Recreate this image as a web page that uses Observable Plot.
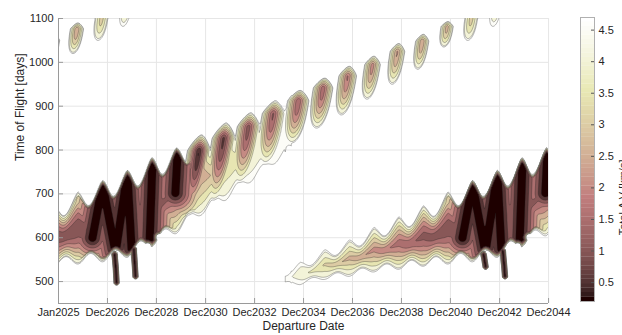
<!DOCTYPE html>
<html><head><meta charset="utf-8">
<script src="https://cdn.jsdelivr.net/npm/d3@7"></script>
<script src="https://cdn.jsdelivr.net/npm/@observablehq/plot@0.6"></script>
<style>
html,body{margin:0;padding:0;background:#fff;}
#wrap{position:relative;width:622px;height:335px;overflow:hidden;}
#wrap svg{position:absolute;left:0;top:0;}
</style></head><body><div id="wrap"></div>
<script>
// ---------------- data ----------------
const tickYears  = [2025.00, 2026.99, 2028.98, 2030.98, 2032.97, 2034.96, 2036.95, 2038.94, 2040.93, 2042.93, 2044.92];
const tickLabels = ["Jan2025","Dec2026","Dec2028","Dec2030","Dec2032","Dec2034","Dec2036","Dec2038","Dec2040","Dec2042","Dec2044"];
const tofTicks = [500, 600, 700, 800, 900, 1000, 1100];
const dvTicks  = [0.5, 1, 1.5, 2, 2.5, 3, 3.5, 4, 4.5];
const dvLevels = [4.7, 4.5, 4, 3.5, 3, 2.5, 2, 1.5, 1, 0.5];   // contour levels (4.7 = cut-off)
const dvRange  = [0.2, 4.7];                                   // colour axis

// launch windows (departure, decimal year)
const windowYears = [2024.79, 2025.79, 2026.80, 2027.80, 2028.80, 2029.80, 2030.81, 2031.81, 2032.81, 2033.81, 2034.82,
                     2035.82, 2036.82, 2037.82, 2038.83, 2039.83, 2040.83, 2041.83, 2042.84, 2043.84, 2044.84, 2045.85];

// family 1 : windows 2024.79 .. 2042.84 (lower-left band rising to the isolated lobes)
const tip1 = [676, 705, 731, 754, 783, 806, 834, 861, 884, 911, 936, 964, 991, 1014, 1043, 1064, 1093, 1118, 1145];
const bot1 = [535, 540, 545, 555, 580, 610, 652, 686, 727, 770, 816, 850, 880, 916, 950, 984, 1035, 1050, 1082];
const bandMin1 = [1.2, 1.1, 1.1, 1.1, 1.2, 1.6, 2.7, 3.5, 4.1, 4.5, 4.8, 5.5, 9, 9, 9, 9, 9, 9, 9];
const bandExp1 = [1.6, 1.6, 1.6, 1.6, 1.6, 1.5, 1.3, 1.2, 1.2, 1.2, 1.2, 1.2, 1, 1, 1, 1, 1, 1, 1];
const lobeMin1 = [9, 9, 9, 9, 9, 9, 0.45, 0.8, 1.2, 1.4, 1.5, 1.6, 1.9, 2.2, 2.4, 2.5, 2.7, 3.2, 4.1];
const lobeHalfW1 = [0, 0, 0, 0, 0, 0, 0.47, 0.47, 0.46, 0.45, 0.43, 0.40, 0.36, 0.32, 0.30, 0.27, 0.25, 0.26, 0.22];

// family 2 : windows 2033.81 .. 2045.85 (lower-right band)
const tip2 = [515, 544, 573, 595, 624, 648, 673, 705, 731, 754, 783, 806, 834];
const bot2 = [492, 493, 505, 512, 522, 528, 535, 540, 545, 555, 580, 605, 652];
const bandMin2 = [5.0, 4.25, 3.4, 2.8, 2.3, 1.8, 1.35, 1.15, 1.1, 1.1, 1.2, 1.6, 2.6];
const bandExp2 = [1, 1, 1, 1, 1.1, 1.3, 1.5, 1.6, 1.6, 1.6, 1.6, 1.5, 1.3];

// family 0 : windows 2024.79 .. 2028.80 (upper-left lobes)
const tip3 = [1064, 1090, 1118, 1145, 1170];
const bot3 = [995, 1020, 1050, 1082, 1110];
const lobeMin3 = [2.5, 2.5, 3.2, 4.0, 4.5];
const lobeHalfW3 = [0.30, 0.27, 0.26, 0.22, 0.16];

// deepest valleys (ΔV ≈ 0.2), [year, TOF]
const valleys1 = [
  [[2026.38, 600], [2026.79, 722], [2027.32, 566], [2027.80, 746], [2027.97, 575]],
  [[2028.70, 585], [2028.82, 774]],
  [[2029.75, 702], [2029.84, 792]]
];
const valleys2 = [
  [[2041.42, 600], [2041.83, 722], [2042.35, 566], [2042.84, 746], [2043.00, 575]],
  [[2043.74, 585], [2043.86, 774]],
  [[2044.79, 702], [2044.87, 792]]
];
const spikes = [
  [[2027.28, 562], [2027.33, 530], [2027.36, 498]],
  [[2028.06, 574], [2028.10, 540], [2028.13, 512]],
  [[2042.28, 562], [2042.36, 534]],
  [[2043.06, 570], [2043.11, 540], [2043.15, 512]]
];
const holes = [[2028.62, 580], [2029.11, 601], [2043.66, 580], [2044.15, 601]];

// ---------------- colour map (MATLAB "pink", 64 entries) ----------------
function pinkColor(t) {
  const m = 64; let i = Math.floor(t * m); i = Math.max(0, Math.min(m - 1, i));
  const n = Math.floor(3 / 8 * m);
  const g = i / (m - 1);
  const hr = i < n ? (i + 1) / n : 1;
  const hg = i < n ? 0 : (i < 2 * n ? (i - n + 1) / n : 1);
  const hb = i < 2 * n ? 0 : (i - 2 * n + 1) / (m - 2 * n);
  const f = v => Math.round(255 * Math.sqrt((2 * g + v) / 3));
  return `rgb(${f(hr)},${f(hg)},${f(hb)})`;
}
const [CMIN, CMAX] = dvRange;
const CUT = dvLevels[0];
const thresholds = dvLevels.map(L => -L);
const fills = dvLevels.map((L, i) => pinkColor(((i + 1 < dvLevels.length ? dvLevels[i + 1] : CMIN) - CMIN) / (CMAX - CMIN)));

// ---------------- field model built from the arrays ----------------
const PXY = 490 / 19.917, PYD = 285 / 650;
const LEAN = 0.0029;
function lobeV(x, T, x0, tip, bot, m, w) {
  if (m >= CUT || w <= 0) return 99;
  if (Math.abs(x - x0) > 4 * w + 0.5) return 99;
  const core = tip - 0.2 * (tip - bot);
  const dy = T - core;
  const ry = dy >= 0 ? dy / (tip - core) : Math.pow(-dy / (core - bot), 1.4);
  if (ry > 3) return 99;
  const xa = x0 - LEAN * (tip - T);
  const we = w * (dy > 0 ? 1 - 0.45 * Math.min(ry, 1) : 1);
  const rx = (x - xa) / we;
  const r = Math.sqrt(rx * rx + ry * ry);
  return m + (CUT - m) * Math.pow(r, 1.25);
}
function dipTop(p) {
  const q = 0.45;
  const s = p < q ? Math.sin(Math.PI * p / (2 * q)) : Math.sin(Math.PI * (1 - p) / (2 * (1 - q)));
  return 0.45 * s + 0.55 * s * s;
}
function bandV(x, T, i0, tip, bot, smin, sexp) {
  const n = tip.length;
  if (x < windowYears[i0] || x >= windowYears[i0 + n - 1]) return [99, 9];
  let k = 0; while (x >= windowYears[i0 + k + 1]) k++;
  const a = windowYears[i0 + k], b = windowYears[i0 + k + 1];
  const p = (x - a) / (b - a);
  const h0 = tip[k] - bot[k], h1 = tip[k + 1] - bot[k + 1];
  const h = h0 + (h1 - h0) * p;
  const dip = 0.2 * h + 8;
  const bump = 4 + 0.1 * h;
  const bt = bot[k] + (bot[k + 1] - bot[k]) * p + bump * (1 - Math.cos(2 * Math.PI * p)) / 2;
  let top = tip[k] + (tip[k + 1] - tip[k]) * p - dip * dipTop(p);
  top = Math.max(top, bt + 10);
  const c = (top + bt) / 2;
  const rho = T >= c ? (T - c) / (top - c) : (c - T) / (c - bt);
  const ms = smin[k] + (smin[k + 1] - smin[k]) * p;
  const e = sexp[k] + (sexp[k + 1] - sexp[k]) * p;
  if (ms >= CUT) return [99, rho];
  return [ms + (CUT - ms) * Math.pow(rho, e), rho];
}
function polyDist(x, T, line) {
  const px = x * PXY, py = T * PYD; let best = Infinity;
  for (let i = 0; i < line.length - 1; i++) {
    const ax = line[i][0] * PXY, ay = line[i][1] * PYD, bx = line[i + 1][0] * PXY, by = line[i + 1][1] * PYD;
    const dx = bx - ax, dy = by - ay;
    let t = ((px - ax) * dx + (py - ay) * dy) / (dx * dx + dy * dy);
    t = Math.max(0, Math.min(1, t));
    const ex = ax + t * dx - px, ey = ay + t * dy - py;
    best = Math.min(best, Math.sqrt(ex * ex + ey * ey));
  }
  return best;
}
const ramp = r => 4.5 * Math.max(0, Math.min(1, (r - 0.88) / 0.12));
const valleyV = d => d < 4 ? 0.2 + 0.3 * (d / 4) * (d / 4) : 0.5 + 0.16 * (d - 4);
function field(x, T) {
  const vals = [];
  const [s1, r1] = bandV(x, T, 0, tip1, bot1, bandMin1, bandExp1);
  const [s2, r2] = bandV(x, T, 9, tip2, bot2, bandMin2, bandExp2);
  vals.push(s1, s2);
  if (r1 < 1.1) for (const L of valleys1) vals.push(valleyV(polyDist(x, T, L)) + ramp(r1));
  if (r2 < 1.1) for (const L of valleys2) vals.push(valleyV(polyDist(x, T, L)) + ramp(r2));
  for (let i = 0; i < tip1.length; i++) vals.push(lobeV(x, T, windowYears[i], tip1[i], bot1[i], lobeMin1[i], lobeHalfW1[i]));
  for (let i = 0; i < tip3.length; i++) vals.push(lobeV(x, T, windowYears[i], tip3[i], bot3[i], lobeMin3[i], lobeHalfW3[i]));
  for (const L of spikes) { const d = polyDist(x, T, L); if (d < 4) vals.push(0.3 + 0.6 * d * d); }
  let vmin = Infinity; for (const v of vals) if (v < vmin) vmin = v;
  const tau = 0.08; let s = 0;
  for (const v of vals) s += Math.exp(-(v - vmin) / tau);
  let v = vmin - tau * Math.log(s);
  for (const h of holes) {
    const dx = (x - h[0]) * PXY, dy = (T - h[1]) * PYD;
    const d = Math.sqrt(dx * dx + dy * dy);
    v = Math.max(v, CUT + 1.5 * (3.6 - d));
  }
  return v;
}

// ---------------- main chart ----------------
const font = '"Liberation Sans", Arial, Helvetica, sans-serif';
const main = Plot.plot({
  width: 622, height: 335,
  marginLeft: 58, marginRight: 74, marginTop: 18, marginBottom: 32,
  style: {fontFamily: font, fontSize: "11px", color: "#262626", background: "white"},
  x: {domain: [2025, 2044.917]},
  y: {domain: [450, 1100]},
  color: {type: "ordinal", domain: thresholds, range: fills},
  marks: [
    Plot.gridX(tickYears, {stroke: "#e6e6e6", strokeOpacity: 1}),
    Plot.gridY(tofTicks, {stroke: "#e6e6e6", strokeOpacity: 1}),
    Plot.contour({
      x1: 2024.8, x2: 2045.1, y1: 440, y2: 1110,
      value: (x, y) => -field(x, y),
      thresholds, fill: "value", stroke: "#1e1e1e", strokeWidth: 0.45, strokeOpacity: 0.72,
      pixelSize: 1, clip: true
    }),
    Plot.ruleX([2025], {stroke: "#9a9a9a"}),
    Plot.ruleY([450], {stroke: "#9a9a9a"}),
    Plot.tickX(tickYears, {x: d => d, insetTop: 280, stroke: "#9a9a9a"}),
    Plot.tickY(tofTicks, {y: d => d, insetRight: 485, stroke: "#9a9a9a"}),
    Plot.axisX(tickYears, {tickSize: 0, tickPadding: 5, tickFormat: d => tickLabels[tickYears.indexOf(d)], label: null}),
    Plot.axisY(tofTicks, {tickSize: 0, tickPadding: 5, tickFormat: d => String(d), label: null}),
    Plot.text(["Departure Date"], {frameAnchor: "bottom", dy: 26, fontSize: 12}),
    Plot.text(["Time of Flight [days]"], {frameAnchor: "left", rotate: -90, dx: -38, fontSize: 12})
  ]
});

// ---------------- colour bar ----------------
const cbIdx = d3.range(64);
const step = (CMAX - CMIN) / 64;
const bar = Plot.plot({
  width: 622, height: 335,
  marginLeft: 580, marginRight: 28, marginTop: 17, marginBottom: 34,
  style: {fontFamily: font, fontSize: "11px", color: "#262626", background: "transparent"},
  x: {domain: [0, 1], axis: null},
  y: {domain: [CMIN, CMAX], axis: null},
  color: {type: "identity"},
  marks: [
    Plot.rect(cbIdx, {x1: 0, x2: 1, y1: i => CMIN + i * step, y2: i => CMIN + (i + 1) * step + step * 0.05, fill: i => pinkColor((i + 0.5) / 64)}),
    Plot.frame({stroke: "#b0b0b0"}),
    Plot.tickY(dvTicks, {y: d => d, insetLeft: 11, stroke: "#555"}),
    Plot.axisY(dvTicks, {anchor: "right", tickSize: 0, tickPadding: 4, tickFormat: d => String(d), label: null}),
    Plot.text(["Total Δ V [km/s]"], {frameAnchor: "right", rotate: -90, dx: 29, fontSize: 11})
  ]
});

const wrap = document.getElementById("wrap");
wrap.appendChild(main);
wrap.appendChild(bar);
</script>
</body></html>
